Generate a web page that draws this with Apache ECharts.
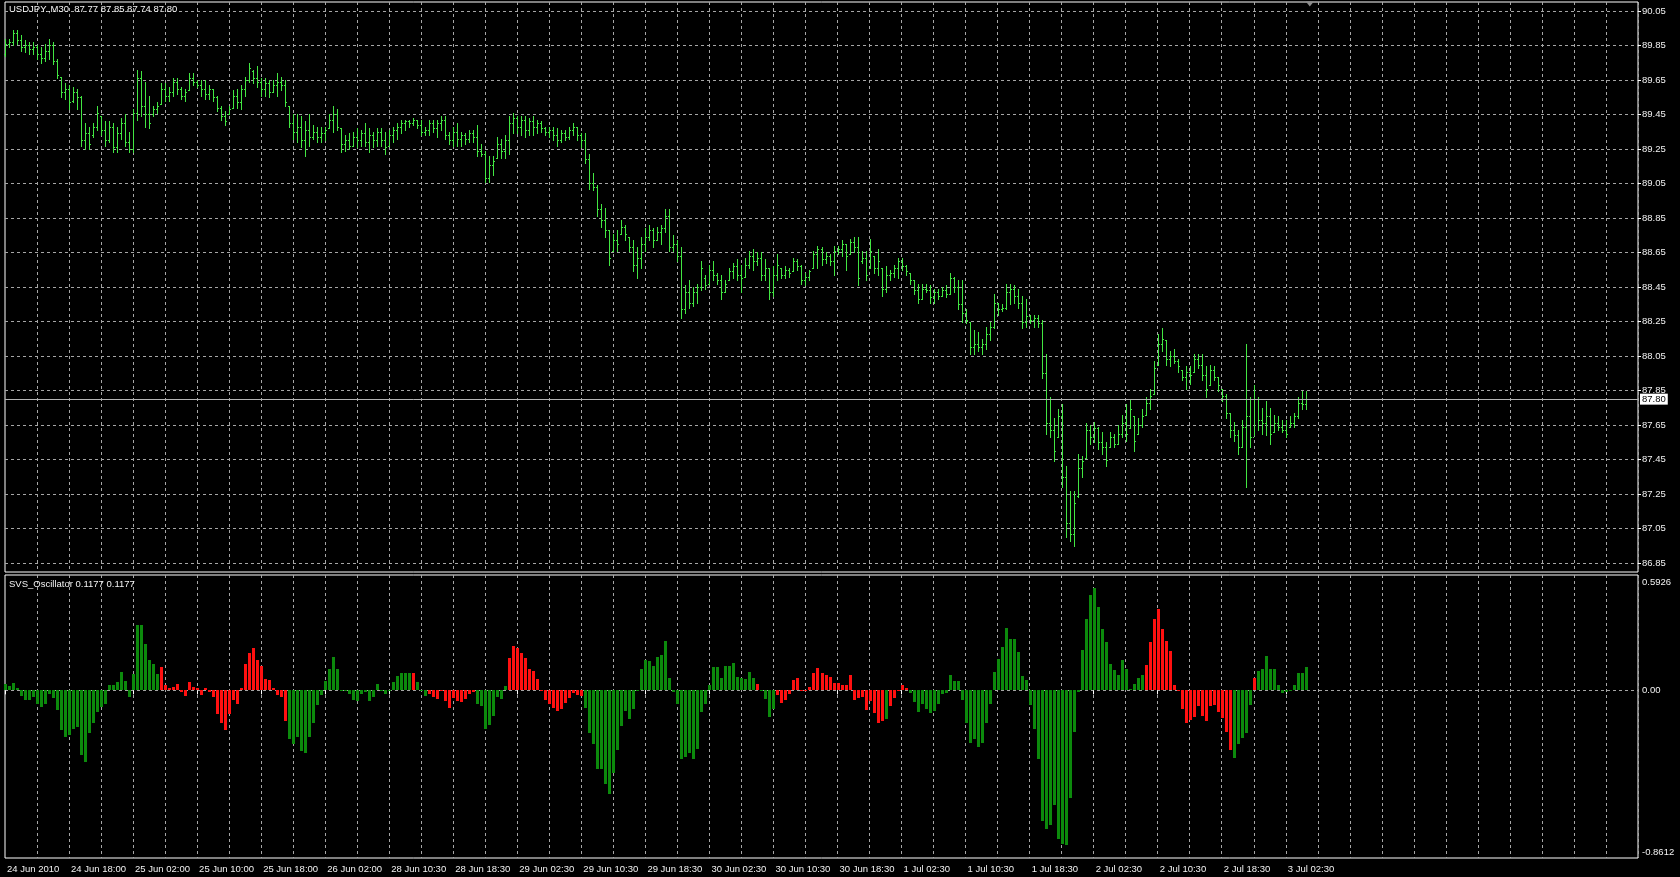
<!DOCTYPE html>
<html><head><meta charset="utf-8">
<script src="https://cdn.jsdelivr.net/npm/echarts@6/dist/echarts.min.js"></script>
<style>html,body{margin:0;padding:0;background:#000;overflow:hidden}#c{width:1680px;height:877px}</style>
</head><body><div id="c"></div>
<script>
// ---------- DATA ----------
const symbolTitle = 'USDJPY.,M30';
const oscName = 'SVS_Oscillator';
const tickLabels = ['24 Jun 2010','24 Jun 18:00','25 Jun 02:00','25 Jun 10:00','25 Jun 18:00','26 Jun 02:00','28 Jun 10:30','28 Jun 18:30','29 Jun 02:30','29 Jun 10:30','29 Jun 18:30','30 Jun 02:30','30 Jun 10:30','30 Jun 18:30','1 Jul 02:30','1 Jul 10:30','1 Jul 18:30','2 Jul 02:30','2 Jul 10:30','2 Jul 18:30','3 Jul 02:30'];
const priceTicks = [86.85,87.05,87.25,87.45,87.65,87.85,88.05,88.25,88.45,88.65,88.85,89.05,89.25,89.45,89.65,89.85,90.05];
const priceRange = [86.798, 90.102];
const oscRange = [-0.8612, 0.5926];
const oscTicks = [-0.8612, 0, 0.5926];

const opens = [
89.80,89.86,89.87,89.92,89.88,89.84,89.85,89.83,89.84,89.80,
89.78,89.82,89.85,89.76,89.67,89.58,89.60,89.53,89.58,89.55,
89.30,89.34,89.33,89.38,89.44,89.36,89.30,89.38,89.26,89.34,
89.40,89.29,89.25,89.46,89.66,89.50,89.45,89.45,89.48,89.51,
89.60,89.56,89.58,89.64,89.60,89.56,89.59,89.66,89.64,89.62,
89.60,89.57,89.60,89.55,89.49,89.44,89.45,89.49,89.56,89.52,
89.60,89.65,89.70,89.66,89.64,89.60,89.63,89.58,89.62,89.64,
89.62,89.50,89.40,89.35,89.38,89.30,89.36,89.32,89.35,89.32,
89.34,89.37,89.42,89.45,89.37,89.28,89.30,89.27,89.32,89.30,
89.34,89.29,89.33,89.30,89.35,89.30,89.27,89.33,89.36,89.38,
89.40,89.41,89.40,89.42,89.39,89.35,89.36,89.40,89.37,89.40,
89.42,89.33,89.30,89.35,89.31,89.33,89.31,89.34,89.32,89.24,
89.22,89.08,89.16,89.20,89.28,89.24,89.30,89.40,89.43,89.38,
89.42,89.36,89.41,89.38,89.40,89.37,89.35,89.36,89.33,89.30,
89.34,89.32,89.36,89.38,89.33,89.30,89.19,89.05,89.03,88.90,
88.84,88.78,88.66,88.72,88.76,88.80,88.74,88.68,88.58,88.62,
88.70,88.74,88.78,88.72,88.77,88.79,88.86,88.68,88.70,88.63,
88.32,88.42,88.36,88.42,88.45,88.50,88.47,88.55,88.52,88.49,
88.42,88.49,88.54,88.57,88.52,88.51,88.58,88.63,88.60,88.62,
88.52,88.56,88.42,88.52,88.56,88.52,88.55,88.54,88.60,88.57,
88.49,88.51,88.56,88.64,88.67,88.61,88.63,88.60,88.66,88.67,
88.70,88.64,88.71,88.68,88.60,88.62,88.56,88.63,88.56,88.56,
88.44,88.52,88.53,88.56,88.60,88.57,88.53,88.49,88.43,88.38,
88.44,88.43,88.39,88.42,88.40,88.43,88.41,88.50,88.45,88.35,
88.30,88.25,88.10,88.12,88.10,88.12,88.18,88.22,88.36,88.32,
88.33,88.42,88.44,88.40,88.36,88.25,88.28,88.26,88.27,88.24,
87.95,87.66,87.62,87.58,87.70,87.35,87.08,87.02,87.24,87.40,
87.46,87.62,87.58,87.63,87.55,87.52,87.52,87.58,87.54,87.60,
87.66,87.63,87.70,87.60,87.65,87.71,87.78,87.83,88.00,88.12,
88.14,88.03,88.05,88.02,87.97,87.93,87.96,87.96,88.03,88.00,
87.94,87.88,87.97,87.93,87.86,87.82,87.72,87.62,87.59,87.52,
87.64,87.70,87.58,87.80,87.68,87.66,87.70,87.61,87.66,87.64,
87.62,87.64,87.66,87.70,87.78,87.77];
const highs = [
89.89,89.89,89.94,89.94,89.91,89.88,89.87,89.87,89.85,89.84,
89.86,89.89,89.87,89.77,89.67,89.63,89.62,89.61,89.60,89.56,
89.40,89.38,89.40,89.50,89.44,89.41,89.41,89.40,89.38,89.43,
89.45,89.35,89.48,89.71,89.70,89.64,89.56,89.50,89.52,89.63,
89.63,89.61,89.66,89.66,89.61,89.60,89.69,89.69,89.65,89.65,
89.65,89.62,89.60,89.56,89.50,89.47,89.50,89.59,89.60,89.62,
89.67,89.75,89.71,89.73,89.66,89.66,89.65,89.65,89.69,89.67,
89.65,89.50,89.45,89.45,89.44,89.41,89.45,89.39,89.38,89.38,
89.38,89.45,89.50,89.48,89.37,89.33,89.34,89.35,89.37,89.36,
89.40,89.37,89.35,89.37,89.37,89.35,89.36,89.38,89.40,89.42,
89.42,89.42,89.43,89.42,89.42,89.38,89.42,89.42,89.42,89.44,
89.44,89.35,89.38,89.40,89.35,89.34,89.36,89.36,89.39,89.28,
89.24,89.21,89.21,89.32,89.31,89.33,89.44,89.46,89.44,89.44,
89.44,89.43,89.44,89.42,89.41,89.38,89.38,89.38,89.37,89.36,
89.36,89.38,89.40,89.38,89.34,89.34,89.22,89.11,89.04,88.93,
88.91,88.78,88.76,88.78,88.84,88.81,88.74,88.72,88.68,88.74,
88.79,88.81,88.79,88.80,88.81,88.90,88.90,88.75,88.72,88.68,
88.46,88.49,88.45,88.47,88.60,88.52,88.58,88.60,88.53,88.52,
88.49,88.56,88.59,88.61,88.58,88.62,88.66,88.67,88.65,88.65,
88.61,88.56,88.57,88.64,88.56,88.57,88.56,88.62,88.61,88.58,
88.53,88.55,88.66,88.69,88.68,88.65,88.64,88.69,88.69,88.72,
88.70,88.73,88.74,88.74,88.66,88.66,88.73,88.63,88.67,88.56,
88.57,88.55,88.58,88.62,88.62,88.58,88.53,88.49,88.47,88.47,
88.47,88.46,88.44,88.44,88.45,88.46,88.53,88.51,88.49,88.49,
88.32,88.25,88.20,88.19,88.15,88.22,88.25,88.41,88.36,88.35,
88.47,88.47,88.46,88.44,88.40,88.38,88.29,88.29,88.29,88.26,
88.06,87.81,87.69,87.74,87.77,87.41,87.27,87.27,87.48,87.47,
87.66,87.65,87.67,87.64,87.61,87.55,87.61,87.60,87.65,87.71,
87.77,87.80,87.70,87.69,87.74,87.81,87.86,88.02,88.18,88.21,
88.14,88.08,88.09,88.03,87.97,87.99,87.99,88.06,88.06,88.06,
87.99,88.00,87.99,87.93,87.86,87.83,87.72,87.67,87.62,87.68,
88.12,87.81,87.88,87.81,87.75,87.79,87.75,87.71,87.70,87.68,
87.68,87.70,87.72,87.81,87.85,87.85];
const lows = [
89.79,89.84,89.85,89.86,89.82,89.81,89.80,89.80,89.77,89.75,
89.76,89.77,89.74,89.66,89.55,89.54,89.48,89.52,89.48,89.27,
89.25,89.25,89.32,89.36,89.33,89.27,89.29,89.23,89.23,89.31,
89.27,89.23,89.23,89.42,89.44,89.38,89.37,89.44,89.46,89.51,
89.53,89.53,89.56,89.57,89.54,89.53,89.59,89.62,89.61,89.56,
89.54,89.54,89.53,89.47,89.42,89.39,89.45,89.49,89.49,89.48,
89.56,89.64,89.63,89.61,89.56,89.56,89.55,89.58,89.56,89.59,
89.50,89.38,89.31,89.29,89.26,89.21,89.27,89.31,89.29,89.29,
89.30,89.37,89.35,89.36,89.23,89.24,89.25,89.27,89.26,89.27,
89.27,89.23,89.26,89.27,89.27,89.22,89.27,89.29,89.31,89.34,
89.36,89.38,89.39,89.37,89.33,89.33,89.33,89.35,89.32,89.36,
89.31,89.28,89.27,89.27,89.27,89.28,89.29,89.29,89.21,89.21,
89.06,89.06,89.10,89.20,89.20,89.20,89.22,89.34,89.34,89.33,
89.32,89.33,89.33,89.34,89.35,89.33,89.32,89.30,89.27,89.29,
89.30,89.31,89.33,89.30,89.26,89.17,89.02,89.01,88.86,88.80,
88.74,88.58,88.66,88.66,88.76,88.72,88.66,88.54,88.50,88.56,
88.66,88.72,88.68,88.72,88.70,88.77,88.66,88.66,88.60,88.27,
88.30,88.33,88.34,88.36,88.43,88.44,88.47,88.49,88.47,88.38,
88.42,88.49,88.50,88.49,88.42,88.51,88.56,88.55,88.58,88.49,
88.49,88.38,88.40,88.49,88.50,88.50,88.51,88.54,88.55,88.47,
88.46,88.49,88.56,88.56,88.58,88.59,88.58,88.52,88.64,88.63,
88.55,88.64,88.65,88.46,88.59,88.49,88.56,88.53,88.52,88.40,
88.42,88.49,88.51,88.50,88.55,88.52,88.47,88.41,88.36,88.38,
88.42,88.36,88.36,88.38,88.40,88.39,88.41,88.42,88.32,88.25,
88.24,88.06,88.06,88.08,88.06,88.09,88.14,88.21,88.29,88.31,
88.32,88.35,88.36,88.33,88.21,88.22,88.24,88.22,88.22,87.92,
87.60,87.58,87.44,87.58,87.29,87.00,86.98,86.95,87.23,87.35,
87.46,87.54,87.55,87.51,87.48,87.41,87.52,87.52,87.54,87.58,
87.56,87.63,87.50,87.60,87.64,87.71,87.74,87.83,88.00,88.08,
88.00,87.99,88.01,87.96,87.91,87.86,87.89,87.96,87.98,87.91,
87.81,87.88,87.91,87.85,87.79,87.69,87.58,87.56,87.48,87.52,
87.29,87.52,87.59,87.62,87.60,87.59,87.54,87.61,87.62,87.61,
87.58,87.64,87.64,87.69,87.74,87.74];
const closes = [
89.86,89.87,89.92,89.88,89.84,89.85,89.83,89.84,89.80,89.78,
89.82,89.85,89.76,89.68,89.58,89.60,89.52,89.58,89.55,89.30,
89.34,89.28,89.38,89.46,89.36,89.30,89.38,89.26,89.34,89.40,
89.29,89.25,89.46,89.66,89.50,89.45,89.40,89.48,89.50,89.60,
89.56,89.58,89.64,89.60,89.56,89.58,89.66,89.64,89.62,89.60,
89.57,89.60,89.55,89.49,89.44,89.41,89.48,89.56,89.52,89.60,
89.65,89.72,89.66,89.64,89.60,89.63,89.58,89.62,89.64,89.62,
89.52,89.40,89.35,89.38,89.30,89.36,89.32,89.35,89.32,89.34,
89.36,89.42,89.45,89.38,89.28,89.30,89.27,89.32,89.30,89.34,
89.29,89.33,89.30,89.35,89.30,89.26,89.33,89.36,89.38,89.40,
89.41,89.40,89.42,89.39,89.35,89.36,89.40,89.37,89.40,89.42,
89.33,89.30,89.35,89.31,89.33,89.31,89.34,89.32,89.24,89.22,
89.08,89.16,89.18,89.28,89.24,89.30,89.40,89.43,89.38,89.42,
89.36,89.41,89.38,89.40,89.37,89.35,89.36,89.33,89.30,89.34,
89.32,89.36,89.38,89.33,89.30,89.19,89.05,89.03,88.90,88.84,
88.78,88.62,88.72,88.70,88.80,88.76,88.68,88.58,88.62,88.70,
88.74,88.78,88.72,88.77,88.79,88.86,88.68,88.70,88.63,88.32,
88.42,88.36,88.42,88.45,88.56,88.46,88.55,88.52,88.49,88.42,
88.47,88.54,88.57,88.52,88.50,88.58,88.63,88.60,88.62,88.52,
88.56,88.42,88.52,88.58,88.52,88.55,88.53,88.60,88.57,88.49,
88.51,88.54,88.64,88.67,88.61,88.63,88.60,88.66,88.67,88.70,
88.63,88.71,88.68,88.50,88.62,88.52,88.66,88.56,88.60,88.44,
88.52,88.53,88.56,88.60,88.57,88.54,88.49,88.43,88.38,88.44,
88.43,88.39,88.42,88.40,88.43,88.41,88.50,88.45,88.35,88.30,
88.26,88.10,88.12,88.10,88.12,88.18,88.22,88.36,88.32,88.33,
88.42,88.44,88.40,88.36,88.25,88.28,88.26,88.27,88.24,87.95,
87.66,87.62,87.50,87.70,87.35,87.08,87.02,87.20,87.40,87.44,
87.62,87.58,87.63,87.55,87.52,87.45,87.58,87.54,87.60,87.66,
87.60,87.74,87.56,87.65,87.70,87.78,87.82,87.98,88.12,88.15,
88.03,88.05,88.02,87.99,87.93,87.96,87.94,88.03,88.00,87.94,
87.86,87.97,87.93,87.88,87.82,87.72,87.62,87.59,87.52,87.64,
87.70,87.58,87.80,87.68,87.66,87.70,87.60,87.66,87.64,87.62,
87.60,87.66,87.70,87.78,87.77,87.80];
const osc = [
0.034,0.02,0.038,0.01,-0.03,-0.05,-0.05,-0.035,-0.07,-0.085,
-0.07,-0.02,-0.04,-0.10,-0.205,-0.24,-0.23,-0.20,-0.19,-0.33,
-0.37,-0.22,-0.17,-0.11,-0.085,-0.07,0.03,0.03,0.045,0.095,
0.05,-0.035,0.085,0.335,0.335,0.24,0.155,0.135,0.085,0.12,
0.025,0.01,0.017,0.034,-0.01,-0.03,0.043,0.017,0.01,-0.026,
0.014,-0.01,-0.034,-0.12,-0.17,-0.205,-0.12,-0.05,-0.07,0.01,
0.137,0.19,0.22,0.155,0.123,0.06,0.055,0.01,-0.026,-0.034,
-0.155,-0.25,-0.275,-0.24,-0.31,-0.32,-0.24,-0.17,-0.077,-0.026,
0.05,0.11,0.17,0.11,0.003,-0.004,-0.02,-0.05,-0.055,-0.017,
-0.01,-0.055,-0.034,0.034,0.003,-0.02,0.003,0.043,0.072,0.087,
0.087,0.09,0.087,0.043,-0.003,-0.03,-0.02,-0.033,-0.043,-0.003,
-0.055,-0.09,-0.038,-0.055,-0.06,-0.043,-0.02,-0.01,-0.072,-0.08,
-0.20,-0.18,-0.13,-0.033,-0.043,0.022,0.168,0.228,0.22,0.19,
0.168,0.108,0.10,0.057,-0.003,-0.05,-0.072,-0.09,-0.106,-0.098,
-0.063,-0.038,-0.015,-0.026,-0.03,-0.09,-0.217,-0.277,-0.406,-0.406,
-0.483,-0.534,-0.426,-0.306,-0.183,-0.106,-0.146,-0.094,0.002,0.111,
0.156,0.151,0.125,0.173,0.18,0.253,0.065,-0.01,-0.072,-0.354,
-0.341,-0.32,-0.354,-0.30,-0.111,-0.072,0.026,0.122,0.122,0.065,
0.125,0.125,0.139,0.07,0.065,0.06,0.094,0.065,0.031,0.002,
-0.046,-0.135,-0.098,-0.026,-0.063,-0.05,-0.02,0.053,0.065,0.002,
0.002,0.019,0.091,0.116,0.091,0.08,0.07,0.036,0.039,0.026,
0.029,0.077,-0.05,-0.04,-0.033,-0.10,-0.055,-0.115,-0.166,-0.158,
-0.146,-0.08,-0.038,-0.003,0.026,0.014,-0.015,-0.06,-0.11,-0.072,
-0.094,-0.118,-0.106,-0.068,-0.02,-0.012,0.079,0.048,0.048,-0.05,
-0.166,-0.269,-0.248,-0.289,-0.269,-0.166,-0.072,0.094,0.163,0.224,
0.322,0.265,0.265,0.197,0.074,0.053,-0.077,-0.20,-0.351,-0.671,
-0.714,-0.693,-0.591,-0.765,-0.791,-0.796,-0.551,-0.214,-0.01,0.207,
0.365,0.488,0.527,0.43,0.317,0.248,0.134,0.104,0.077,0.156,
0.111,0.009,0.031,0.065,0.077,0.128,0.248,0.365,0.42,0.313,
0.253,0.202,0.026,-0.003,-0.098,-0.166,-0.152,-0.135,-0.08,-0.132,
-0.158,-0.08,-0.077,-0.111,-0.14,-0.214,-0.306,-0.346,-0.277,-0.243,
-0.221,-0.077,0.065,0.099,0.108,0.176,0.108,0.108,0.026,-0.015,
-0.009,-0.003,0.026,0.091,0.091,0.1177];
// colour of each oscillator bar, as runs of [colour, count]
const oscColorRuns = [['G',39],['R',32],['G',31],['R',1],['G',3],['R',12],['G',8],['R',19],['G',43],['R',1],['G',4],['R',27],['G',1],['R',5],['G',59],['R',22],['G',5],['R',1],['G',13]];

// ---------- STYLE ----------
const BAR_GREEN = '#42e642';
const OSC_GREEN = '#0c8a0c';
const OSC_RED = '#ff1010';
const GRID_COL = '#a6a6a6';
const TEXT_COL = '#f2f2f2';
const FONT = 'Liberation Sans, Arial, sans-serif';
const FS = 9.5;
const SLOTS = 409;   // bar slots across the visible chart width
const LABEL_STEP = 16, GRID_STEP = 8;

const oscColors = [];
oscColorRuns.forEach(([c, n]) => { for (let k = 0; k < n; k++) oscColors.push(c); });

const categories = [];
for (let i = 0; i < SLOTS; i++) categories.push('b' + i);

const priceData = opens.map((o, i) => [i, o, highs[i], lows[i], closes[i]]);
const oscData = osc.map((v, i) => [i, v, oscColors[i] === 'R' ? 1 : 0]);

const last = closes.length - 1;
const fmt2 = v => v.toFixed(2);

const chart = echarts.init(document.getElementById('c'), null, {renderer: 'canvas'});

function xAxisCommon(gridIndex, showLabels) {
  return {
    type: 'category', gridIndex, data: categories, boundaryGap: false,
    axisLine: {show: false},
    axisTick: showLabels ? {show: true, length: 4, lineStyle: {color: '#ffffff'},
      interval: (idx) => idx % LABEL_STEP === 0 && idx / LABEL_STEP < tickLabels.length} : {show: false},
    axisLabel: showLabels ? {
      show: true, color: TEXT_COL, fontSize: FS, fontFamily: FONT, align: 'left', margin: 6,
      padding: [0, 0, 0, 2],
      interval: (idx) => idx % LABEL_STEP === 0 && idx / LABEL_STEP < tickLabels.length,
      formatter: (val, idx) => tickLabels[idx / LABEL_STEP] || ''
    } : {show: false},
    splitLine: {show: true, interval: (idx) => idx % GRID_STEP === 0 && idx > 0,
      lineStyle: {color: GRID_COL, type: [3, 3], width: 1}}
  };
}

const option = {
  backgroundColor: '#000000',
  animation: false,
  title: [
    {text: symbolTitle + '  ' + [opens[last], highs[last], lows[last], closes[last]].map(fmt2).join(' '),
     left: 9, top: 4, padding: 0, textStyle: {color: TEXT_COL, fontSize: FS, fontWeight: 'normal', fontFamily: FONT}},
    {text: oscName + ' ' + osc[last].toFixed(4) + ' ' + osc[last].toFixed(4),
     left: 9, top: 579, padding: 0, textStyle: {color: TEXT_COL, fontSize: FS, fontWeight: 'normal', fontFamily: FONT}}
  ],
  grid: [
    {left: 5, top: 2, width: 1633, height: 570, show: true, borderColor: '#ffffff', borderWidth: 1, backgroundColor: 'transparent'},
    {left: 5, top: 575, width: 1633, height: 283, show: true, borderColor: '#ffffff', borderWidth: 1, backgroundColor: 'transparent'}
  ],
  xAxis: [xAxisCommon(0, false), xAxisCommon(1, true)],
  yAxis: [
    {type: 'value', gridIndex: 0, position: 'right', min: priceRange[0], max: priceRange[1],
     axisLine: {show: false},
     axisTick: {show: true, length: 3, lineStyle: {color: '#ffffff'}, customValues: priceTicks},
     axisLabel: {show: true, color: TEXT_COL, fontSize: FS, fontFamily: FONT, margin: 4,
       customValues: priceTicks, formatter: v => v.toFixed(2)},
     splitLine: {show: true, lineStyle: {color: GRID_COL, type: [3, 3], width: 1}}},
    {type: 'value', gridIndex: 1, position: 'right', min: oscRange[0], max: oscRange[1],
     axisLine: {show: false},
     axisTick: {show: false, customValues: [0]},
     axisLabel: {show: true, color: TEXT_COL, fontSize: FS, fontFamily: FONT, margin: 4,
       customValues: oscTicks,
       formatter: v => v === oscRange[1] ? '{t|' + v.toFixed(4) + '}' : v === oscRange[0] ? '{b|' + v.toFixed(4) + '}' : '{m|' + v.toFixed(2) + '}',
       rich: {
         t: {color: TEXT_COL, fontSize: FS, fontFamily: FONT, padding: [14, 0, 0, 0]},
         b: {color: TEXT_COL, fontSize: FS, fontFamily: FONT, padding: [0, 0, 12, 0]},
         m: {color: TEXT_COL, fontSize: FS, fontFamily: FONT}
       }},
     splitLine: {show: true, lineStyle: {color: GRID_COL, type: [3, 3], width: 1}}}
  ],
  series: [
    {
      type: 'custom', name: 'price', xAxisIndex: 0, yAxisIndex: 0,
      data: priceData, encode: {x: 0, y: [1, 2, 3, 4]}, clip: false,
      renderItem: function (params, api) {
        const i = api.value(0);
        const X = Math.round(api.coord([i, api.value(2)])[0]);
        const yO = Math.round(api.coord([i, api.value(1)])[1]);
        const yH = Math.round(api.coord([i, api.value(2)])[1]);
        const yL = Math.round(api.coord([i, api.value(3)])[1]);
        const yC = Math.round(api.coord([i, api.value(4)])[1]);
        const st = {fill: BAR_GREEN};
        return {type: 'group', children: [
          {type: 'rect', shape: {x: X, y: yH, width: 1, height: Math.max(1, yL - yH + 1)}, style: st},
          {type: 'rect', shape: {x: X - 1, y: yO, width: 1, height: 1}, style: st},
          {type: 'rect', shape: {x: X + 1, y: yC, width: 1, height: 1}, style: st}
        ]};
      },
      markLine: {
        silent: true, symbol: 'none', animation: false,
        data: [{yAxis: closes[last]}],
        lineStyle: {color: '#b4b4b4', type: 'solid', width: 1},
        label: {show: true, position: 'end', distance: 2, formatter: fmt2(closes[last]),
          backgroundColor: '#ffffff', color: '#000000', fontSize: FS, fontFamily: FONT, padding: [1, 2, 0, 2]}
      },
      markPoint: {
        silent: true, animation: false,
        data: [{coord: [closes.length, priceRange[1]], symbol: 'triangle', symbolRotate: 180, symbolSize: [8, 5], symbolOffset: [0, 2],
          itemStyle: {color: '#8c8c8c'}, label: {show: false}}]
      }
    },
    {
      type: 'custom', name: 'osc', xAxisIndex: 1, yAxisIndex: 1,
      data: oscData, encode: {x: 0, y: 1}, clip: false,
      renderItem: function (params, api) {
        const i = api.value(0);
        const p0 = api.coord([i, 0]);
        const p1 = api.coord([i, api.value(1)]);
        const X = Math.round(p0[0]);
        const y0 = Math.round(p0[1]);
        const y1 = Math.round(p1[1]);
        return {type: 'rect', shape: {x: X - 1, y: Math.min(y0, y1), width: 3, height: Math.max(1, Math.abs(y1 - y0))},
          style: {fill: api.value(2) === 1 ? OSC_RED : OSC_GREEN}};
      }
    }
  ]
};
chart.setOption(option);
</script>
</body></html>
